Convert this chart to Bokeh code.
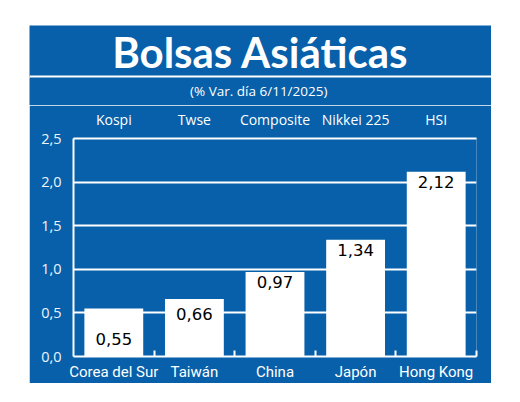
from bokeh.plotting import figure
from bokeh.models import FixedTicker, LinearAxis, Range1d, Grid, ColumnDataSource
from bokeh.layouts import column
from bokeh.embed import file_html
from bokeh.resources import INLINE
from bokeh.core.properties import value

# ---------------- data ----------------
title = "Bolsas Asiáticas"
subtitle = "(% Var. día  6/11/2025)"
countries = ["Corea del Sur", "Taiwán", "China", "Japón", "Hong Kong"]
indices = ["Kospi", "Twse", "Composite", "Nikkei 225", "HSI"]
changes = [0.55, 0.66, 0.97, 1.34, 2.12]
value_labels = ["0,55", "0,66", "0,97", "1,34", "2,12"]
y_ticks = [0.0, 0.5, 1.0, 1.5, 2.0, 2.5]
y_tick_labels = ["0,0", "0,5", "1,0", "1,5", "2,0", "2,5"]

# ---------------- style ----------------
BLUE = "#0760A9"
W = 462
TITLE_H, RULE_H, SUB_H = 50, 2, 28
B_LEFT, B_RIGHT, B_TOP, B_BOTTOM = 44, 15, 33, 23
FRAME_H = 222
CHART_H = B_TOP + FRAME_H + B_BOTTOM
Y_MAX = 2.5
n = len(countries)
PX_Y = FRAME_H / Y_MAX
label_drop_px = [31, 15, 10, 11, 11]   # value label centre below bar top
BODY_FONT = "Open Sans"
NARROW_FONT = "Roboto"

centers = [i + 0.5 for i in range(n)]
separators = [i + 1 for i in range(n)]


def strip(height):
    f = figure(width=W, height=height, x_range=Range1d(0, 1), y_range=Range1d(0, height),
               toolbar_location=None, output_backend="svg", min_border=0,
               min_border_left=0, min_border_right=0, min_border_top=0, min_border_bottom=0,
               x_axis_location=None, y_axis_location=None)
    f.frame_align = False
    f.grid.visible = False
    f.outline_line_color = None
    f.background_fill_color = BLUE
    f.border_fill_color = BLUE
    return f


# title strip with the white rule at its foot
head = strip(TITLE_H + RULE_H)
head.quad(left=[0], right=[1], bottom=[0], top=[RULE_H], fill_color="white", line_color=None)
head.text(x=[0.5], y=[TITLE_H + RULE_H - 26.5], text=[title], text_align="center",
          text_baseline="middle", text_font=value("Lato"), text_font_style="bold",
          text_font_size="42px", text_color="white")

# subtitle strip
sub = strip(SUB_H)
sub.text(x=[0.5], y=[SUB_H - 13], text=[subtitle], text_align="center", text_baseline="middle",
         text_font=value(BODY_FONT), text_font_size="13.5px", text_color="white")

# chart
p = figure(width=W, height=CHART_H, x_range=Range1d(0, n), y_range=Range1d(0, Y_MAX),
           toolbar_location=None, output_backend="svg",
           min_border_left=B_LEFT, min_border_right=B_RIGHT,
           min_border_top=B_TOP, min_border_bottom=B_BOTTOM,
           x_axis_location=None, y_axis_location=None)
p.frame_align = False
p.grid.visible = False
p.outline_line_color = None
p.background_fill_color = BLUE
p.border_fill_color = BLUE

p.add_layout(Grid(dimension=1, ticker=FixedTicker(ticks=y_ticks),
                  grid_line_color="white", grid_line_width=2))

src = ColumnDataSource(dict(
    x=centers, top=changes, lab=value_labels,
    ly=[v - d / PX_Y for v, d in zip(changes, label_drop_px)],
))
p.vbar(x="x", top="top", width=0.73, source=src, fill_color="white", line_color=None)
p.text(x="x", y="ly", text="lab", source=src, text_align="center", text_baseline="middle",
       text_font=value("DejaVu Sans"), text_font_size="16.5px", text_color="black")

left = LinearAxis(ticker=FixedTicker(ticks=y_ticks),
                  major_label_overrides={t: l for t, l in zip(y_ticks, y_tick_labels)})
left.axis_line_color = "white"
left.axis_line_width = 2
left.major_tick_line_color = None
left.minor_tick_line_color = None
left.major_label_text_color = "#EEF3FA"
left.major_label_text_font = BODY_FONT
left.major_label_text_font_size = "14.5px"
left.major_label_standoff = 6
p.add_layout(left, "left")

bottom = LinearAxis(ticker=FixedTicker(ticks=centers, minor_ticks=separators),
                    major_label_overrides={c: l for c, l in zip(centers, countries)})
bottom.axis_line_color = "white"
bottom.axis_line_width = 2
bottom.major_tick_line_color = None
bottom.minor_tick_line_color = "white"
bottom.minor_tick_line_width = 2
bottom.minor_tick_in = 6
bottom.minor_tick_out = 0
bottom.major_label_text_color = "white"
bottom.major_label_text_font = NARROW_FONT
bottom.major_label_text_font_size = "15px"
bottom.major_label_standoff = 0
p.add_layout(bottom, "below")

top = LinearAxis(ticker=FixedTicker(ticks=centers),
                 major_label_overrides={c: l for c, l in zip(centers, indices)})
top.axis_line_color = "white"
top.axis_line_width = 2
top.major_tick_line_color = None
top.minor_tick_line_color = None
top.major_label_text_color = "white"
top.major_label_text_font = BODY_FONT
top.major_label_text_font_size = "14px"
top.major_label_standoff = 4
p.add_layout(top, "above")

page = column(head, sub, p, spacing=0, margin=(25, 0, 0, 29))

open("out.html", "w").write(file_html(page, INLINE))
